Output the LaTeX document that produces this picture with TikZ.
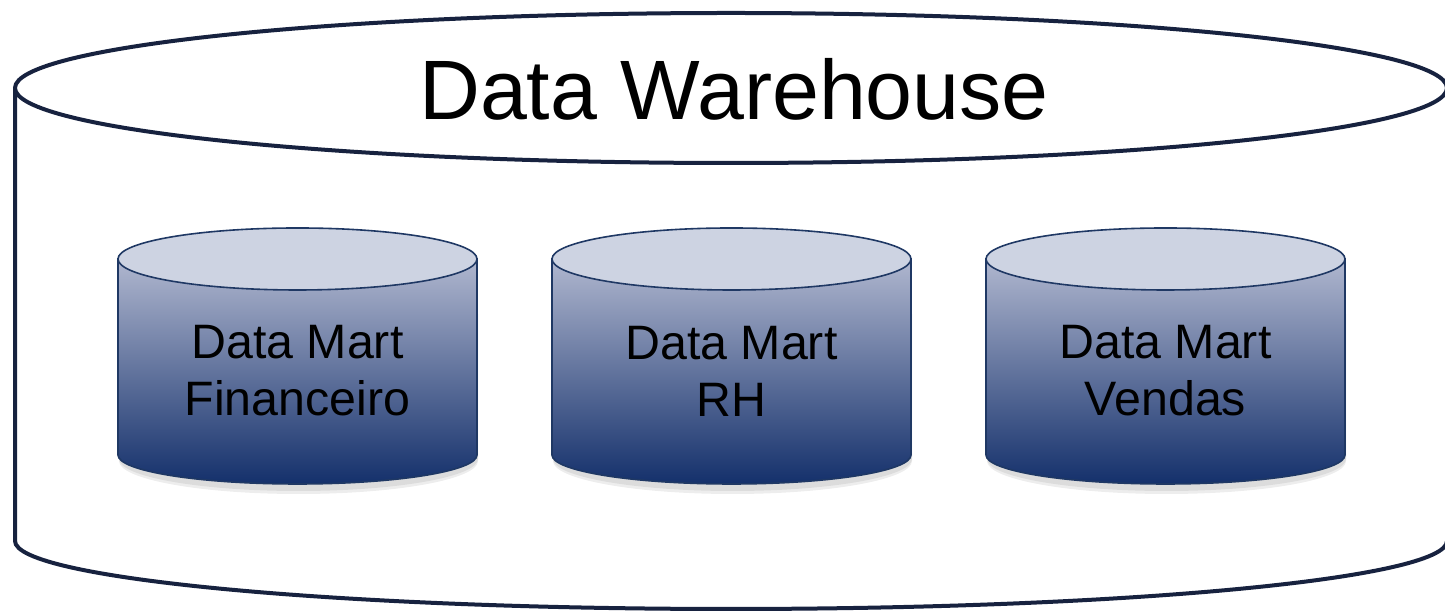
\documentclass[tikz,border=0pt]{standalone}
\usepackage{fontspec}
\setmainfont{Liberation Sans}

\definecolor{dwline}{HTML}{17223F}
\definecolor{dmline}{HTML}{1F3864}
\definecolor{dmcap}{HTML}{CDD3E2}
\definecolor{dmtop}{HTML}{B0B7CF}
\definecolor{dmbottom}{HTML}{14306B}

\tikzset{
	dwoutline/.style={draw=dwline, line width=4*0.02cm, line join=round},
	dmbody/.style={draw=dmline, line width=1.6*0.02cm, top color=dmtop, bottom color=dmbottom},
	dmcapfill/.style={draw=dmline, line width=1.6*0.02cm, fill=dmcap},
	dmshadow/.style={fill=black, opacity=0.07},
	dmlabel/.style={align=center, font=\fontsize{27.5pt}{32.5pt}\selectfont},
}

\begin{document}
\begin{tikzpicture}[x=0.02cm, y=0.02cm]
		\useasboundingbox (0,0) rectangle (1445,614);
		
		%data warehouse outline
		\draw[dwoutline] (15,526) -- (15,73) arc (180:360:716 and 68) -- (1447,526);
		\draw[dwoutline, fill=white] (731,526) ellipse (716 and 75);
		\node (dw) at (734,525) {\fontsize{48pt}{56pt}\selectfont Data Warehouse};
		
		%shadows
		\fill[dmshadow] (119,300) -- (119,155) arc (180:360:179.5 and 32) -- (478,300) -- cycle;
		\fill[dmshadow] (119,300) -- (119,153) arc (180:360:179.5 and 33) -- (478,300) -- cycle;
		\fill[dmshadow] (553,300) -- (553,155) arc (180:360:179.5 and 32) -- (912,300) -- cycle;
		\fill[dmshadow] (553,300) -- (553,153) arc (180:360:179.5 and 33) -- (912,300) -- cycle;
		\fill[dmshadow] (987,300) -- (987,155) arc (180:360:179.5 and 32) -- (1346,300) -- cycle;
		\fill[dmshadow] (987,300) -- (987,153) arc (180:360:179.5 and 33) -- (1346,300) -- cycle;
		
		%data marts
		\draw[dmbody] (118,355) -- (118,159) arc (180:360:179.5 and 29) -- (477,355) -- cycle;
		\draw[dmcapfill] (297.5,355) ellipse (179.5 and 31);
		\node[dmlabel] (financeiro) at (297.5,243) {Data Mart\\Financeiro};
		
		\draw[dmbody] (552,355) -- (552,159) arc (180:360:179.5 and 29) -- (911,355) -- cycle;
		\draw[dmcapfill] (731.5,355) ellipse (179.5 and 31);
		\node[dmlabel] (rh) at (731.5,243) {Data Mart\\RH};
		
		\draw[dmbody] (986,355) -- (986,159) arc (180:360:179.5 and 29) -- (1345,355) -- cycle;
		\draw[dmcapfill] (1165.5,355) ellipse (179.5 and 31);
		\node[dmlabel] (vendas) at (1165.5,243) {Data Mart\\Vendas};
\end{tikzpicture}
\end{document}
